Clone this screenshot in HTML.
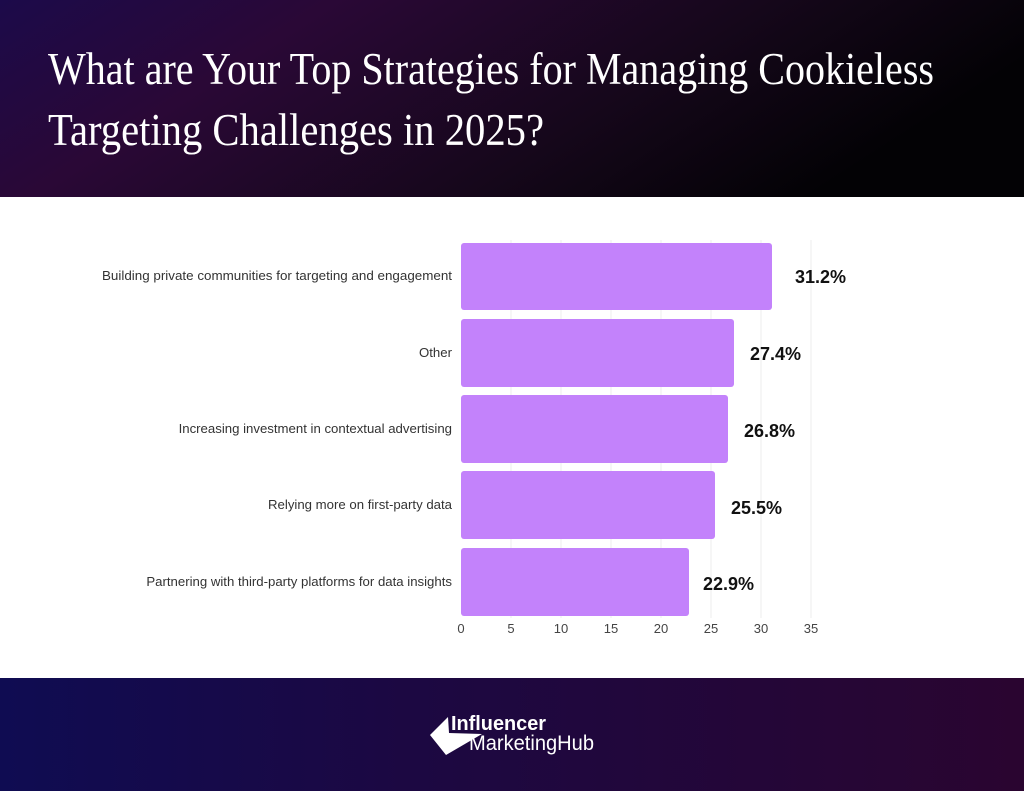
<!DOCTYPE html>
<html><head><meta charset="utf-8"><style>
body{margin:0;width:1024px;height:791px;overflow:hidden;background:#fff}
</style></head><body>
<svg width="1024" height="791" xmlns="http://www.w3.org/2000/svg" style="display:block">
<defs>
<linearGradient id="h" x1="0" y1="0" x2="1" y2="0.3">
<stop offset="0" stop-color="#1c0a4a"/><stop offset="0.3" stop-color="#2a0836"/><stop offset="0.7" stop-color="#15071a"/><stop offset="1" stop-color="#030205"/>
</linearGradient>
<linearGradient id="f" x1="0" y1="0" x2="1" y2="0">
<stop offset="0" stop-color="#0f0c52"/><stop offset="0.4" stop-color="#1c0842"/><stop offset="1" stop-color="#2a0530"/>
</linearGradient>
</defs>
<rect x="0" y="0" width="1024" height="197" fill="url(#h)"/>
<rect x="0" y="678" width="1024" height="113" fill="url(#f)"/>
<g font-family="Liberation Serif, serif" fill="#fff" font-size="45">
<text x="48" y="84" textLength="886" lengthAdjust="spacingAndGlyphs">What are Your Top Strategies for Managing Cookieless</text>
<text x="48" y="145" textLength="496" lengthAdjust="spacingAndGlyphs">Targeting Challenges in 2025?</text>
</g>
<g stroke="#eee" stroke-width="1">
<line x1="511" y1="240" x2="511" y2="618"/><line x1="561" y1="240" x2="561" y2="618"/><line x1="611" y1="240" x2="611" y2="618"/><line x1="661" y1="240" x2="661" y2="618"/><line x1="711" y1="240" x2="711" y2="618"/><line x1="761" y1="240" x2="761" y2="618"/><line x1="811" y1="240" x2="811" y2="618"/>
</g>
<g fill="#c382fb">
<rect x="461" y="243" width="311" height="67" rx="3"/>
<rect x="461" y="319" width="273" height="68" rx="3"/>
<rect x="461" y="395" width="267" height="68" rx="3"/>
<rect x="461" y="471" width="254" height="68" rx="3"/>
<rect x="461" y="548" width="228" height="68" rx="3"/>
</g>
<g font-family="Liberation Sans, sans-serif" font-size="13.2" fill="#333" text-anchor="end">
<text x="452" y="280" textLength="350" lengthAdjust="spacingAndGlyphs">Building private communities for targeting and engagement</text>
<text x="452" y="357">Other</text>
<text x="452" y="433">Increasing investment in contextual advertising</text>
<text x="452" y="509">Relying more on first-party data</text>
<text x="452" y="586">Partnering with third-party platforms for data insights</text>
</g>
<g font-family="Liberation Sans, sans-serif" font-size="18" font-weight="bold" fill="#111">
<text x="795" y="283">31.2%</text>
<text x="750" y="360">27.4%</text>
<text x="744" y="437">26.8%</text>
<text x="731" y="514">25.5%</text>
<text x="703" y="590">22.9%</text>
</g>
<g font-family="Liberation Sans, sans-serif" font-size="13" fill="#444" text-anchor="middle">
<text x="461" y="633">0</text><text x="511" y="633">5</text><text x="561" y="633">10</text><text x="611" y="633">15</text><text x="661" y="633">20</text><text x="711" y="633">25</text><text x="761" y="633">30</text><text x="811" y="633">35</text>
</g>
<polygon points="430,735 448,717 449,733 482,734 446,755" fill="#fff"/>
<g font-family="Liberation Sans, sans-serif" fill="#fff">
<text x="451" y="730" font-size="20" font-weight="bold" textLength="95" lengthAdjust="spacingAndGlyphs">Influencer</text>
<text x="469" y="750" font-size="21" textLength="125" lengthAdjust="spacingAndGlyphs">MarketingHub</text>
</g>
</svg>
</body></html>
